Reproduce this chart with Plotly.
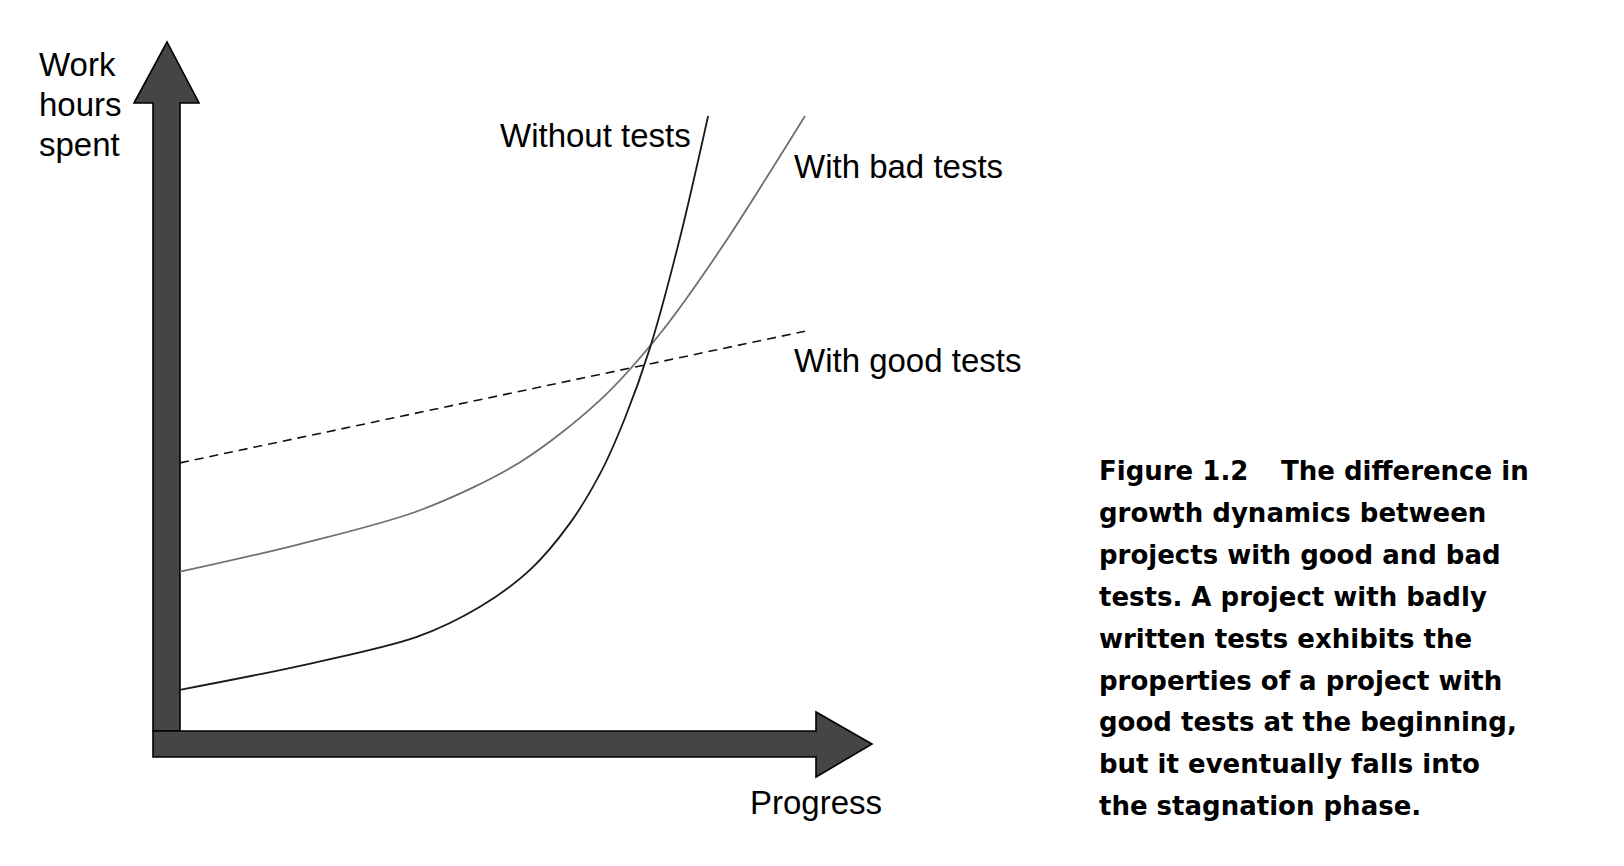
import plotly.graph_objects as go

# ---------------- data (abstract units: progress 0-100, work hours 0-100) ----------------
progress_without = [0, 19.2, 37.9, 48.0, 56.0, 62.4, 67.2, 71.2, 75.2, 80.0, 84.5]
hours_without = [6.7, 10.6, 15.3, 20.2, 26.2, 33.8, 41.8, 50.9, 62.3, 80.2, 100]

progress_bad = [0, 19.2, 38.4, 54.4, 67.2, 76.8, 86.4, 100]
hours_bad = [25.9, 30.4, 35.9, 43.7, 53.8, 64.6, 78.2, 100]

progress_good = [0, 100]
hours_good = [43.6, 65.0]

series_labels = ["Without tests", "With bad tests", "With good tests"]
x_axis_title = "Progress"
y_axis_title_lines = ["Work", "hours", "spent"]
caption_lines = [
    "growth dynamics between",
    "projects with good and bad",
    "tests. A project with badly",
    "written tests exhibits the",
    "properties of a project with",
    "good tests at the beginning,",
    "but it eventually falls into",
    "the stagnation phase.",
]
caption_head = "Figure 1.2"
caption_first = "The difference in"

# ---------------- layout geometry (pixel frame) ----------------
W, H = 1624, 866
PX_X0, SX = 180.0, 6.25   # pixel x of progress 0, px per unit
PX_Y0, SY = 731.0, 6.15   # pixel y of hours 0, px per unit


def dx(px):
    return (px - PX_X0) / SX


def dy(py):
    return (PX_Y0 - py) / SY


def path(points):
    parts = []
    for i, (px, py) in enumerate(points):
        parts.append(("M" if i == 0 else "L") + f"{dx(px):.4f},{dy(py):.4f}")
    return " ".join(parts) + " Z"


fig = go.Figure()

fig.add_trace(go.Scatter(
    x=progress_good, y=hours_good, mode="lines",
    line=dict(color="#111111", width=1.6, dash="9px,6px"),
    hoverinfo="skip", name=series_labels[2]))
fig.add_trace(go.Scatter(
    x=progress_bad, y=hours_bad, mode="lines",
    line=dict(color="#707070", width=1.8, shape="spline", smoothing=0.9),
    hoverinfo="skip", name=series_labels[1]))
fig.add_trace(go.Scatter(
    x=progress_without, y=hours_without, mode="lines",
    line=dict(color="#1a1a1a", width=1.8, shape="spline", smoothing=0.9),
    hoverinfo="skip", name=series_labels[0]))

ARROW_FILL = "#454545"
shapes = [
    dict(type="path", xref="x", yref="y", layer="below",
         path=path([(153, 731), (153, 103), (134, 103), (167, 42), (199, 103), (180, 103), (180, 731)]),
         fillcolor=ARROW_FILL, line=dict(color="black", width=1.6)),
    dict(type="path", xref="x", yref="y", layer="below",
         path=path([(153, 731), (816, 731), (816, 712), (872, 744), (816, 777), (816, 757), (153, 757)]),
         fillcolor=ARROW_FILL, line=dict(color="black", width=1.6)),
]

LABEL_FONT = dict(family="Liberation Sans, Arial, sans-serif", size=33, color="black")
CAP_FONT = dict(family="DejaVu Sans, sans-serif", size=26, color="black", weight="bold")

annotations = []


def ann(text, px, py, font, xanchor="left"):
    annotations.append(dict(text=text, x=dx(px), y=dy(py), xref="x", yref="y",
                            showarrow=False, xanchor=xanchor, yanchor="middle",
                            font=font))


ann(series_labels[0], 498, 135, LABEL_FONT)
ann(series_labels[1], 792, 166, LABEL_FONT)
ann(series_labels[2], 792, 360, LABEL_FONT)
ann(x_axis_title, 748, 802, LABEL_FONT)
for i, t in enumerate(y_axis_title_lines):
    ann(t, 37, 64 + 40 * i, LABEL_FONT)

CAP_Y0, CAP_STEP = 471, 41.9
ann(caption_head, 1097, CAP_Y0, CAP_FONT)
ann(caption_first, 1279, CAP_Y0, CAP_FONT)
for i, t in enumerate(caption_lines):
    ann(t, 1097, CAP_Y0 + CAP_STEP * (i + 1), CAP_FONT)

fig.update_layout(
    width=W, height=H,
    margin=dict(l=0, r=0, t=0, b=0),
    paper_bgcolor="white", plot_bgcolor="white",
    showlegend=False,
    xaxis=dict(range=[dx(0), dx(W)], visible=False, fixedrange=True),
    yaxis=dict(range=[dy(H), dy(0)], visible=False, fixedrange=True),
    shapes=shapes,
    annotations=annotations,
)

fig.write_html("out.html", config=dict(displayModeBar=False))
